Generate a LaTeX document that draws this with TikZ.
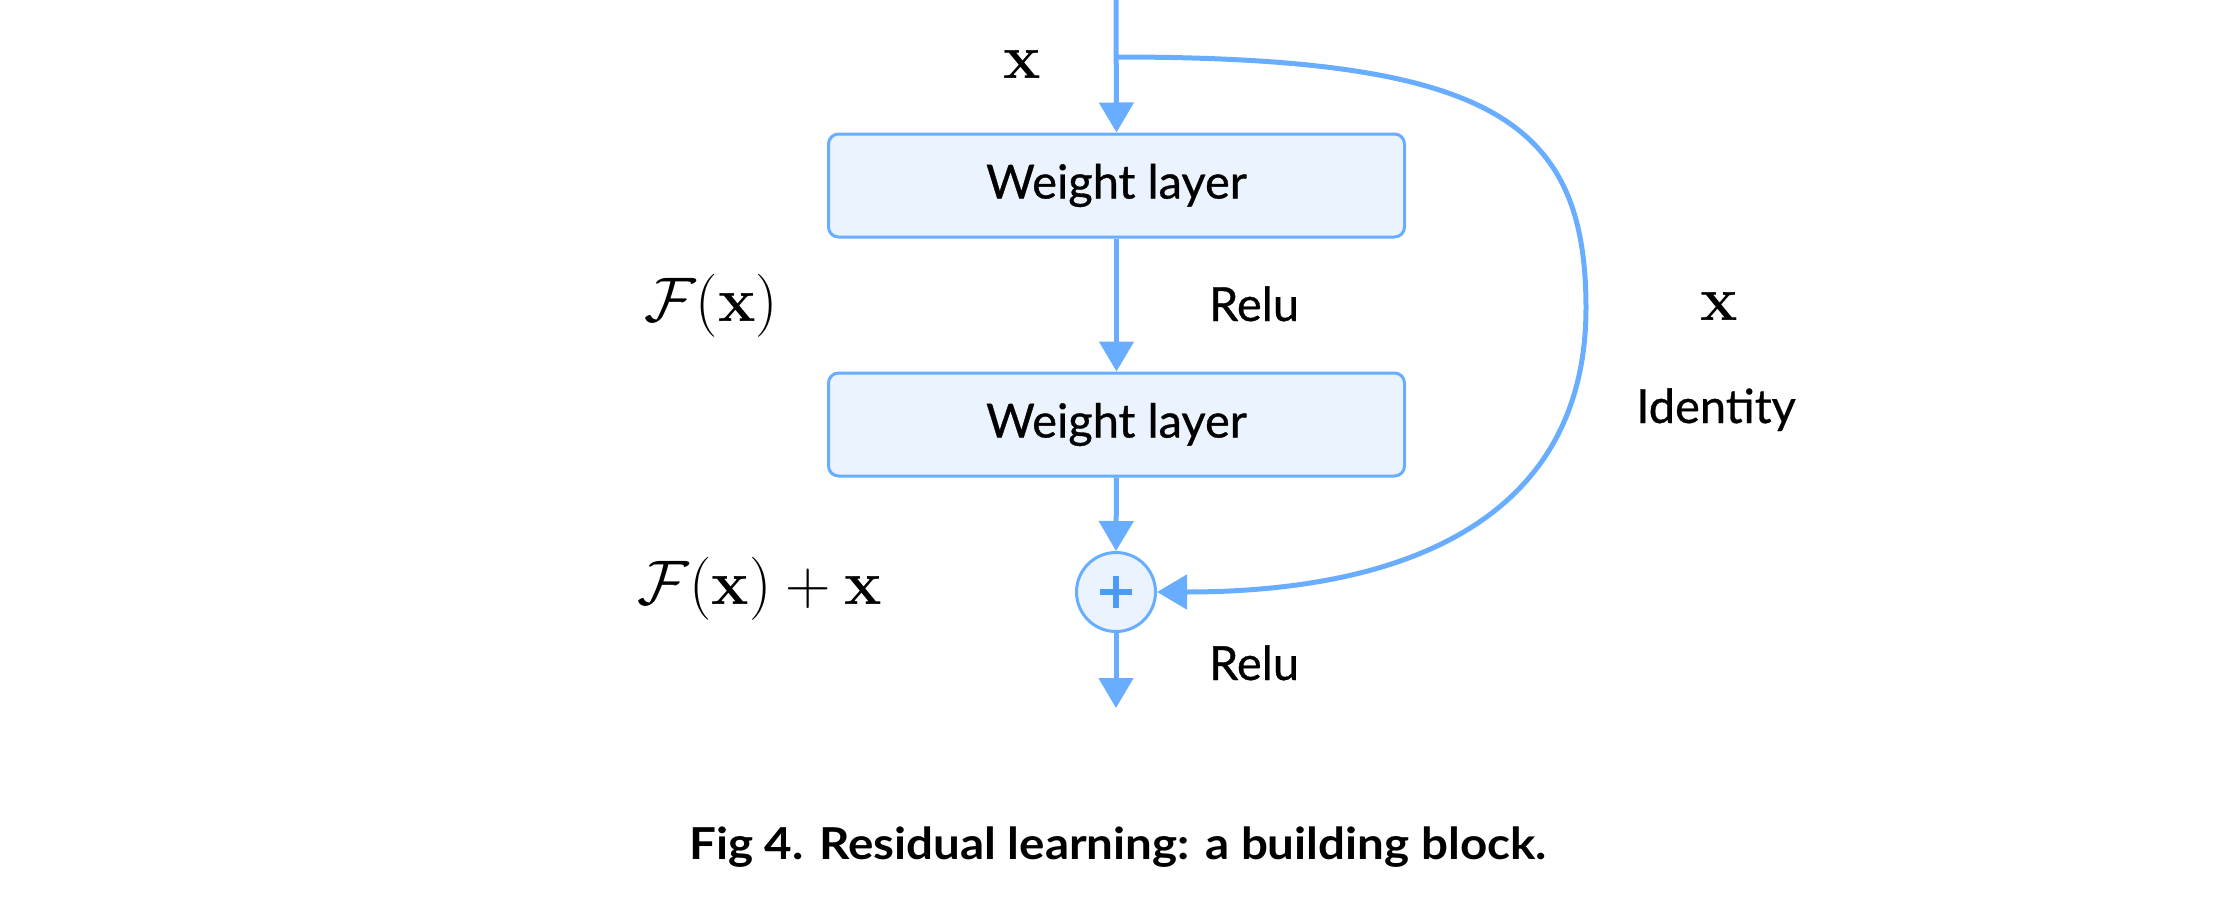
\RequirePackage{fix-cm}
\documentclass[tikz,border=0pt]{standalone}
\usepackage[no-math]{fontspec}
\setmainfont{Lato}
\newfontfamily\labelfont[FakeBold=0.7]{Lato}
\newfontfamily\captionfont[FakeStretch=1.08]{Lato Bold}
\usetikzlibrary{arrows.meta}
\definecolor{lineblue}{HTML}{68ADFF}
\definecolor{fillblue}{HTML}{EBF4FE}
\definecolor{plusblue}{HTML}{4A9BF5}
\begin{document}
\begin{tikzpicture}[x=0.5pt,y=-0.5pt,
  conn/.style={draw=lineblue,line width=2.5pt,-{Triangle[length=15pt,width=17pt]}},
  layerbox/.style={draw=lineblue,fill=fillblue,line width=1.5pt,rounded corners=5pt,
    minimum width=288pt,minimum height=51.5pt,inner sep=0pt,font=\labelfont\fontsize{23.5}{28}\selectfont},
  lbl/.style={font=\labelfont\fontsize{23.5}{28}\selectfont,inner sep=0pt,anchor=base},
  mlbl/.style={font=\fontsize{31.5}{37}\selectfont,inner sep=0pt},
  sumnode/.style={circle,draw=lineblue,fill=fillblue,line width=1.5pt,minimum size=39.5pt,inner sep=0pt}]
\useasboundingbox (0,0) rectangle (2235,900);
\coordinate (top) at (1116,0);
\coordinate (branch) at (1116,57);
\coordinate (bend) at (1586,308);
\coordinate (out) at (1116,708);
\node[layerbox] (w1) at (1116.5,185.5) {Weight layer};
\node[layerbox] (w2) at (1116.5,424.5) {Weight layer};
\node[sumnode] (sum) at (1116,592) {};
\draw[plusblue,line width=2.6pt] (sum.center) +(-16,0) -- +(16,0) (sum.center) +(0,-16) -- +(0,16);
\draw[conn] (top) -- (w1.north);
\draw[conn] (w1.south) -- (w2.north);
\draw[conn] (w2.south) -- (sum.north);
\draw[conn] (sum.south) -- (out);
\draw[conn] (branch) .. controls (1490,57) and (1586,120) .. (bend)
  .. controls (1586,510) and (1420,592) .. (sum.east);
\node[mlbl] (xin) at (1022,64) {$\mathbf{x}$};
\node[mlbl] (fx) at (711,306) {$\mathcal{F}(\mathbf{x})$};
\node[mlbl] (fxx) at (760,589) {$\mathcal{F}(\mathbf{x})+\mathbf{x}$};
\node[mlbl] (xid) at (1719,306) {$\mathbf{x}$};
\node[lbl] (relu1) at (1254,321) {Relu};
\node[lbl] (relu2) at (1254,680) {Relu};
\node[lbl] (ident) at (1716,423) {Identity};
\node[lbl,font=\captionfont\fontsize{22}{26}\selectfont] (cap) at (1118,859) {Fig 4. Residual learning: a building block.};
\end{tikzpicture}
\end{document}
